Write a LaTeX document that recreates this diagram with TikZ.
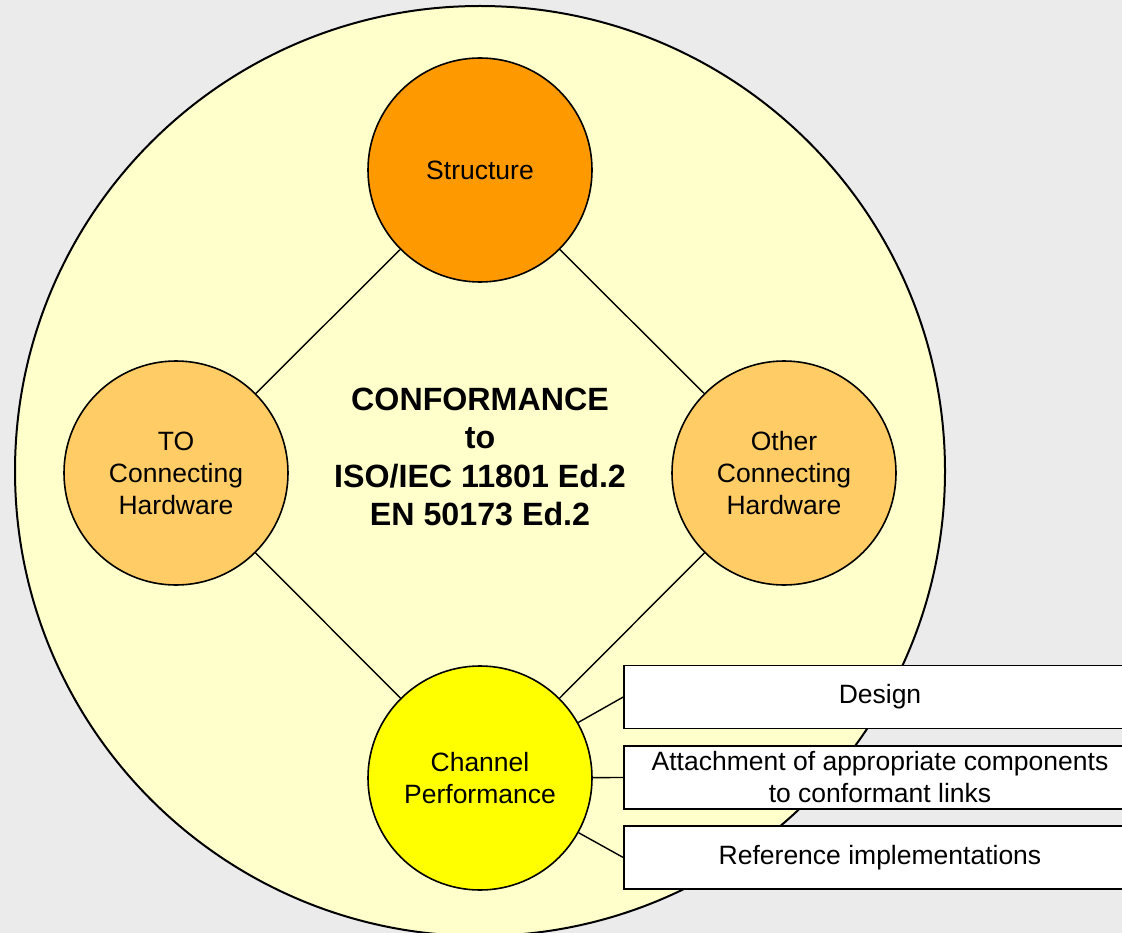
\documentclass[tikz,border=0pt]{standalone}
\usepackage{fontspec}
\setmainfont{Liberation Sans}
\definecolor{bgray}{HTML}{EBEBEB}
\definecolor{paleyellow}{HTML}{FFFFCC}
\definecolor{orangeA}{HTML}{FF9900}
\definecolor{orangeB}{HTML}{FFCC66}
\definecolor{yellowA}{HTML}{FFFF00}
\begin{document}
\begin{tikzpicture}[x=1pt,y=-1pt,
  bub/.style={circle, draw=black, line width=1.6pt, minimum size=224pt, inner sep=0pt,
    align=center, font=\fontsize{26.5}{32}\selectfont},
  infobox/.style={rectangle, draw=black, fill=white, line width=1.5pt, minimum width=512pt,
    minimum height=63pt, inner sep=0pt, align=center, font=\fontsize{26.5}{32}\selectfont},
  link/.style={draw=black, line width=1.4pt}]
\fill[bgray] (0,0) rectangle (1122,933);
\useasboundingbox (0,0) rectangle (1122,933);
\draw[line width=2pt, fill=paleyellow] (480,471) circle[radius=465];

\node[bub, fill=orangeA] (struct) at (480,170) {Structure};
\node[bub, fill=orangeB] (to) at (176,473) {TO\\Connecting\\Hardware};
\node[bub, fill=orangeB] (other) at (784,473) {Other\\Connecting\\Hardware};
\node[bub, fill=yellowA] (chan) at (480,778) {Channel\\Performance};

\node[align=center, font=\bfseries\fontsize{32.2}{38.5}\selectfont] (title) at (480,457)
  {CONFORMANCE\\to\\ISO/IEC 11801 Ed.2\\EN 50173 Ed.2};

\node[infobox] (design) at (880,697) {\raisebox{-2pt}{Design}};
\node[infobox] (attach) at (880,777.5) {Attachment of appropriate components\\to conformant links};
\node[infobox] (refimp) at (880,857.5) {\raisebox{-2pt}{Reference implementations}};

\draw[link] (struct) -- (to);
\draw[link] (struct) -- (other);
\draw[link] (to) -- (chan);
\draw[link] (other) -- (chan);
\draw[link] (chan) -- (design.west);
\draw[link] (chan) -- (attach.west);
\draw[link] (chan) -- (refimp.west);
\end{tikzpicture}
\end{document}
